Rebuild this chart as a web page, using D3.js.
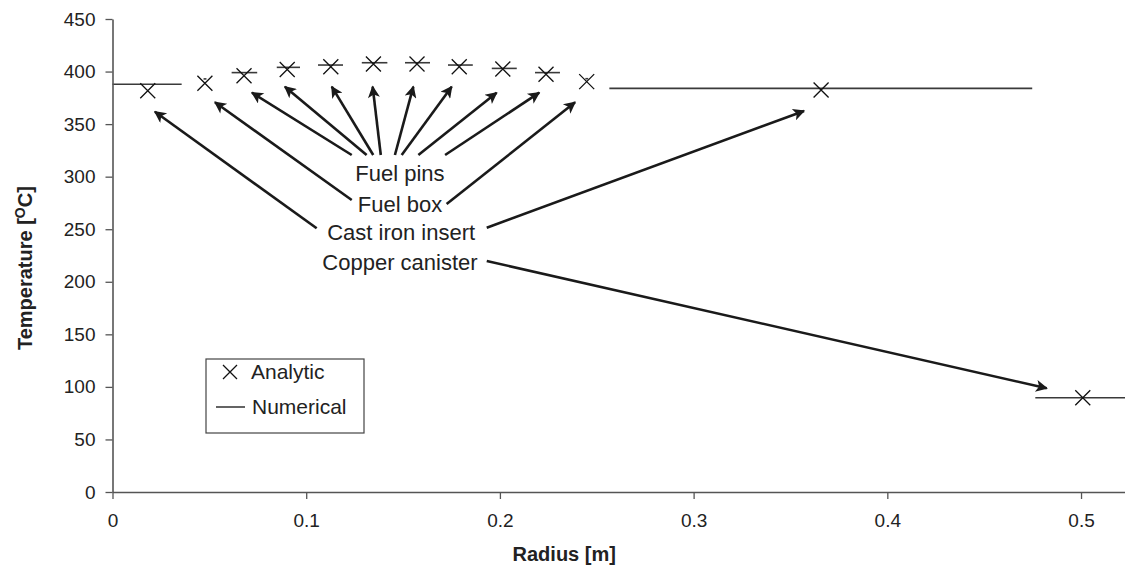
<!DOCTYPE html>
<html>
<head>
<meta charset="utf-8">
<script src="https://cdn.jsdelivr.net/npm/d3@7"></script>
<style>
  html, body { margin: 0; padding: 0; background: #fff; }
  svg { display: block; font-family: "Liberation Sans", Arial, Helvetica, sans-serif; }
</style>
</head>
<body>
<svg id="chart" width="1125" height="570"></svg>
<script>
// Analytic temperatures at the component radii [m, °C]
const analyticRadius = [0.0182, 0.0477, 0.0679, 0.0902, 0.1127, 0.1347, 0.1572, 0.1790, 0.2015, 0.2238, 0.2448, 0.3658, 0.5009];
const analyticTemp   = [381.8, 388.8, 396.0, 402.0, 404.6, 407.2, 407.2, 404.6, 402.4, 397.4, 390.4, 382.5, 89.7];

// Numerical solution, piecewise constant segments: start radius, end radius, temperature
const numericalStart = [0.0000, 0.0470, 0.0615, 0.0848, 0.1061, 0.1287, 0.1510, 0.1732, 0.1958, 0.2181, 0.2441, 0.2565, 0.4764];
const numericalEnd   = [0.0357, 0.0485, 0.0747, 0.0968, 0.1190, 0.1419, 0.1639, 0.1860, 0.2087, 0.2310, 0.2456, 0.4748, 0.5227];
const numericalTemp  = [387.9, 393.0, 399.0, 404.0, 406.2, 408.4, 408.4, 406.2, 403.0, 399.0, 393.2, 384.0, 89.7];

// Component labels (text centre radius, baseline temperature)
const labelText   = ["Fuel pins", "Fuel box", "Cast iron insert", "Copper canister"];
const labelRadius = [0.1484, 0.1484, 0.1490, 0.1484];
const labelTemp   = [295.5, 266.0, 239.5, 211.0];

// Annotation arrows in data units: tail (r, T) -> head (r, T)
const arrowFromR = [0.1235, 0.1312, 0.1346, 0.1385, 0.1458, 0.1493, 0.1579, 0.1717, 0.1235, 0.1725, 0.1054, 0.1932, 0.1932];
const arrowFromT = [320.6, 320.6, 320.6, 320.6, 320.6, 320.6, 320.6, 320.6, 277.8, 274.0, 250.9, 251.4, 219.8];
const arrowToR   = [0.0720, 0.0890, 0.1132, 0.1343, 0.1553, 0.1751, 0.1983, 0.2203, 0.0529, 0.2388, 0.0219, 0.3570, 0.4823];
const arrowToT   = [379.9, 385.6, 385.6, 385.6, 385.6, 385.6, 379.9, 379.9, 370.8, 370.8, 361.8, 362.5, 98.7];

// Axis ticks and titles
const xTicks = [0, 0.1, 0.2, 0.3, 0.4, 0.5];
const yTicks = [0, 50, 100, 150, 200, 250, 300, 350, 400, 450];
const xTitle = "Radius [m]";
const legendLabels = ["Analytic", "Numerical"];

const svg = d3.select("#chart");

const x = d3.scaleLinear().domain([0, 0.5227]).range([112.5, 1125]);
const y = d3.scaleLinear().domain([0, 450]).range([492, 19]);

const axisColor = "#555";
const inkColor = "#1a1a1a";

// Numerical segments
svg.append("g")
  .selectAll("line")
  .data(numericalTemp.map((t, i) => ({ r0: numericalStart[i], r1: numericalEnd[i], t })))
  .join("line")
  .attr("x1", d => x(d.r0))
  .attr("x2", d => x(d.r1))
  .attr("y1", d => y(d.t))
  .attr("y2", d => y(d.t))
  .attr("stroke", "#3a3a3a")
  .attr("stroke-width", 1.6);

// Analytic crosses
const crossHalf = 7.5;
const crossPath = `M${-crossHalf},${-crossHalf}L${crossHalf},${crossHalf}M${-crossHalf},${crossHalf}L${crossHalf},${-crossHalf}`;
svg.append("g")
  .selectAll("path")
  .data(analyticTemp.map((t, i) => ({ r: analyticRadius[i], t })))
  .join("path")
  .attr("transform", d => `translate(${x(d.r)},${y(d.t)})`)
  .attr("d", crossPath)
  .attr("fill", "none")
  .attr("stroke", "#111")
  .attr("stroke-width", 1.3);

// Axes
const xAxis = svg.append("g")
  .attr("transform", `translate(0,${y(0)})`)
  .call(d3.axisBottom(x).tickValues(xTicks).tickSize(7).tickSizeOuter(0)
    .tickFormat(d => d === 0 ? "0" : d3.format(".1f")(d)));
const yAxis = svg.append("g")
  .attr("transform", `translate(${x(0)},0)`)
  .call(d3.axisLeft(y).tickValues(yTicks).tickSize(7).tickSizeOuter(0));

[xAxis, yAxis].forEach(g => {
  g.select(".domain").attr("stroke", axisColor).attr("stroke-width", 1.6);
  g.selectAll(".tick line").attr("stroke", axisColor).attr("stroke-width", 1.3);
  g.selectAll(".tick text")
    .attr("fill", "#222")
    .style("font-size", "19px")
    .style("font-family", "Liberation Sans, Arial, sans-serif");
});
xAxis.selectAll(".tick text").attr("dy", "0.71em").attr("y", 22);
yAxis.selectAll(".tick text").attr("x", -17);

// Axis titles
svg.append("text")
  .attr("x", x(0.2332))
  .attr("y", 561)
  .attr("text-anchor", "middle")
  .attr("font-weight", "bold")
  .attr("font-size", 20)
  .attr("fill", "#222")
  .text(xTitle);

const yTitle = svg.append("text")
  .attr("transform", `translate(32,${y(213)}) rotate(-90)`)
  .attr("text-anchor", "middle")
  .attr("font-weight", "bold")
  .attr("font-size", 20)
  .attr("fill", "#222");
yTitle.append("tspan").text("Temperature [");
yTitle.append("tspan").attr("dy", -7).attr("font-size", 14).text("O");
yTitle.append("tspan").attr("dy", 7).text("C]");

// Arrowhead marker
svg.append("defs").append("marker")
  .attr("id", "head")
  .attr("viewBox", "0 0 10 10")
  .attr("refX", 9)
  .attr("refY", 5)
  .attr("markerUnits", "userSpaceOnUse")
  .attr("markerWidth", 15)
  .attr("markerHeight", 12)
  .attr("orient", "auto")
  .append("path")
  .attr("d", "M0,0L10,5L0,10L2.5,5Z")
  .attr("fill", inkColor);

svg.append("g")
  .selectAll("line")
  .data(arrowFromR.map((r, i) => ({ r0: r, t0: arrowFromT[i], r1: arrowToR[i], t1: arrowToT[i] })))
  .join("line")
  .attr("x1", d => x(d.r0))
  .attr("y1", d => y(d.t0))
  .attr("x2", d => x(d.r1))
  .attr("y2", d => y(d.t1))
  .attr("stroke", inkColor)
  .attr("stroke-width", 2.6)
  .attr("marker-end", "url(#head)");

// Component labels
svg.append("g")
  .selectAll("text")
  .data(labelText.map((s, i) => ({ s, r: labelRadius[i], t: labelTemp[i] })))
  .join("text")
  .attr("x", d => x(d.r))
  .attr("y", d => y(d.t))
  .attr("text-anchor", "middle")
  .attr("font-size", 22)
  .attr("fill", "#222")
  .text(d => d.s);

// Legend
const legend = svg.append("g").attr("transform", "translate(206,359)");
legend.append("rect")
  .attr("width", 158).attr("height", 74)
  .attr("fill", "#fff")
  .attr("stroke", "#444")
  .attr("stroke-width", 1.2);
legend.append("path")
  .attr("transform", "translate(24,13)")
  .attr("d", `M-7,-7L7,7M-7,7L7,-7`)
  .attr("fill", "none")
  .attr("stroke", "#111")
  .attr("stroke-width", 1.3);
legend.append("line")
  .attr("x1", 10).attr("x2", 39)
  .attr("y1", 48).attr("y2", 48)
  .attr("stroke", "#222").attr("stroke-width", 1.4);
legend.selectAll("text.lbl")
  .data(legendLabels)
  .join("text")
  .attr("class", "lbl")
  .attr("x", (d, i) => i === 0 ? 45 : 46)
  .attr("y", (d, i) => i === 0 ? 20 : 55)
  .attr("font-size", 21)
  .attr("fill", "#222")
  .text(d => d);
</script>
</body>
</html>
